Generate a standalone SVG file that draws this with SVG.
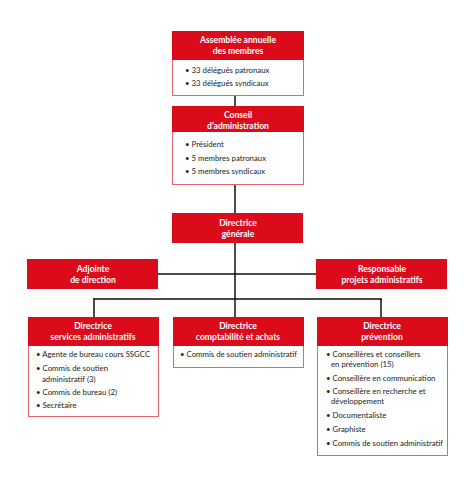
<svg xmlns="http://www.w3.org/2000/svg" width="474" height="492" viewBox="0 0 474 492">
<style>
.hd{fill:#db0b1c}
.bd{fill:#fff;stroke:#e4646e;stroke-width:1}
.ht{font-family:Lato,"Liberation Sans",sans-serif;font-weight:bold;font-size:8.6px;fill:#fff;text-anchor:middle}
.bt{font-family:Lato,"Liberation Sans",sans-serif;font-size:7.8px;fill:#222}
.ln{stroke:#111;stroke-width:1.5;fill:none}
</style>
<rect width="474" height="492" fill="#fff"/>
<g id="connectors">
<path class="ln" d="M235 96V106M235 185V213M235 243V299M158 274H316M93 299H382M94 299V317M235 299V317M381 299V317"/>
</g>
<g id="assemblee">
<rect class="bd" x="172.5" y="31.5" width="131" height="64"/>
<rect class="hd" x="172" y="31" width="132" height="29"/>
<text class="ht" x="238" y="43">Assemblée annuelle</text>
<text class="ht" x="238" y="54">des membres</text>
<text class="bt" x="185" y="73">• 33 délégués patronaux</text>
<text class="bt" x="185" y="86">• 33 délégués syndicaux</text>
</g>
<g id="conseil">
<rect class="bd" x="172.5" y="106.5" width="131" height="78"/>
<rect class="hd" x="172" y="106" width="132" height="26"/>
<text class="ht" x="238" y="118">Conseil</text>
<text class="ht" x="238" y="129">d’administration</text>
<text class="bt" x="185" y="147">• Président</text>
<text class="bt" x="185" y="161">• 5 membres patronaux</text>
<text class="bt" x="185" y="174">• 5 membres syndicaux</text>
</g>
<g id="dg">
<rect class="hd" x="172" y="213" width="131" height="30"/>
<text class="ht" x="238" y="226">Directrice</text>
<text class="ht" x="238" y="237">générale</text>
</g>
<g id="adjointe">
<rect class="hd" x="27" y="259" width="131" height="30"/>
<text class="ht" x="93" y="272">Adjointe</text>
<text class="ht" x="93" y="283">de direction</text>
</g>
<g id="responsable">
<rect class="hd" x="316" y="259" width="131" height="30"/>
<text class="ht" x="382" y="272">Responsable</text>
<text class="ht" x="382" y="283">projets administratifs</text>
</g>
<g id="services">
<rect class="bd" x="28.5" y="317.5" width="130" height="99"/>
<rect class="hd" x="28" y="317" width="131" height="29"/>
<text class="ht" x="93" y="329">Directrice</text>
<text class="ht" x="93" y="340">services administratifs</text>
<text class="bt" x="36" y="357">• Agente de bureau cours SSGCC</text>
<text class="bt" x="36" y="371">• Commis de soutien</text>
<text class="bt" x="42" y="382">administratif (3)</text>
<text class="bt" x="36" y="395">• Commis de bureau (2)</text>
<text class="bt" x="36" y="408">• Secrétaire</text>
</g>
<g id="comptabilite">
<rect class="bd" x="173.5" y="317.5" width="130" height="50"/>
<rect class="hd" x="173" y="317" width="131" height="29"/>
<text class="ht" x="238" y="329">Directrice</text>
<text class="ht" x="238" y="340">comptabilité et achats</text>
<text class="bt" x="180" y="357">• Commis de soutien administratif</text>
</g>
<g id="prevention">
<rect class="bd" x="317.5" y="317.5" width="130" height="138"/>
<rect class="hd" x="317" y="317" width="131" height="29"/>
<text class="ht" x="382" y="329">Directrice</text>
<text class="ht" x="382" y="340">prévention</text>
<text class="bt" x="326" y="357">• Conseillères et conseillers</text>
<text class="bt" x="331" y="367">en prévention (15)</text>
<text class="bt" x="326" y="381">• Conseillère en communication</text>
<text class="bt" x="326" y="394">• Conseillère en recherche et</text>
<text class="bt" x="331" y="404">développement</text>
<text class="bt" x="326" y="418">• Documentaliste</text>
<text class="bt" x="326" y="432">• Graphiste</text>
<text class="bt" x="326" y="446">• Commis de soutien administratif</text>
</g>
</svg>
